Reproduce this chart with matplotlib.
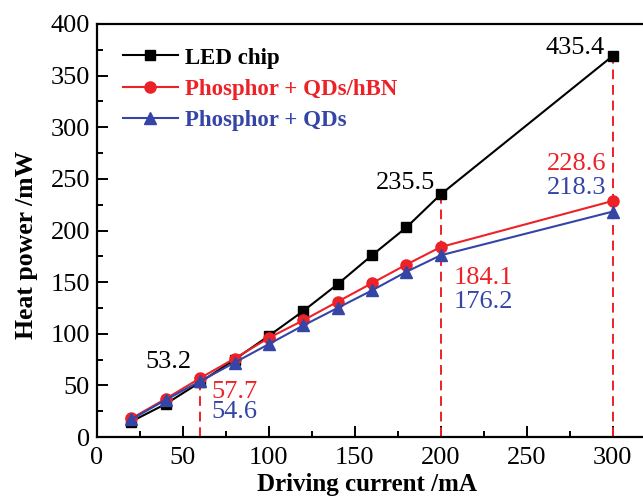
import numpy as np
import matplotlib
matplotlib.use("Agg")
import matplotlib.pyplot as plt
from matplotlib.ticker import MultipleLocator

plt.rcParams['font.family'] = ['Liberation Serif', 'DejaVu Serif']

# driving current (mA)
current = [20, 40, 60, 80, 100, 120, 140, 160, 180, 200, 300]
# heat power (mW)
led_chip = [15, 32, 53, 75, 98, 122, 148, 176, 203, 235, 369]
qds_hbn = [18, 37, 57, 76, 96, 113, 131, 149, 167, 184, 228.6]
qds = [17, 36, 54, 72, 90, 108, 125, 142, 160, 176, 218.3]

# dashed guide lines: (x, top)
guides_x = [60, 200, 300]
guides_top = [53, 235, 369]

# value labels
labels = ["53.2", "57.7", "54.6", "235.5", "184.1", "176.2", "435.4", "228.6", "218.3"]
label_x = [41.3, 66.3, 66.5, 197, 207.3, 207.3, 295.5, 296.3, 296.3]
label_y = [73, 44, 24.5, 246, 154, 131, 377, 264, 241]
label_ha = ["center", "left", "left", "right", "left", "left", "right", "right", "right"]

black = "black"
red = "#ec2227"
blue = "#3445a6"
label_colors = [black, red, blue, black, red, blue, black, red, blue]

fig = plt.figure(figsize=(6.43, 5), dpi=100)
ax = fig.add_axes([97 / 643, 63 / 500, 550 / 643, 413 / 500])

ax.plot(current, led_chip, color=black, marker="s", ms=6.5, lw=1.5, label="LED chip", zorder=3)
ax.plot(current, qds_hbn, color=red, marker="o", ms=8, lw=1.5, label="Phosphor + QDs/hBN", zorder=4)
ax.plot(current, qds, color=blue, marker="^", ms=8, lw=1.5, label="Phosphor + QDs", zorder=5)

for gx, gt in zip(guides_x, guides_top):
    ax.plot([gx, gx], [0, gt], color=red, ls=(0, (5, 3)), lw=1.4, zorder=2)

for t, x, y, ha, c in zip(labels, label_x, label_y, label_ha, label_colors):
    ax.text(x, y, t, color=c, fontsize=19, ha=ha, va="center")

ax.set_xlim(0, 320)
ax.set_ylim(0, 400)
ax.xaxis.set_major_locator(MultipleLocator(50))
ax.xaxis.set_minor_locator(MultipleLocator(25))
ax.yaxis.set_major_locator(MultipleLocator(50))
ax.yaxis.set_minor_locator(MultipleLocator(25))
ax.tick_params(which="both", direction="in", labelsize=19, width=1.4)
ax.tick_params(which="major", length=8)
ax.tick_params(which="minor", length=4.5)
ax.tick_params(axis="x", which="major", pad=7)
ax.tick_params(axis="y", which="major", pad=5)
for s in ax.spines.values():
    s.set_linewidth(1.6)

ax.set_xlabel("Driving current /mA", fontsize=18, fontweight="bold")
ax.xaxis.set_label_coords(0.49, -0.086, transform=ax.transAxes)
ax.set_ylabel("Heat power /mW", fontsize=18.5, fontweight="bold")
ax.yaxis.set_label_coords(-0.107, 0.465, transform=ax.transAxes)

leg = ax.legend(loc="upper left", frameon=False, fontsize=16.5, handlelength=2.4,
                handletextpad=0.3, labelspacing=0.45, borderaxespad=0.3,
                bbox_to_anchor=(0.018, 0.982))
for txt, c in zip(leg.get_texts(), [black, red, blue]):
    txt.set_color(c)
    txt.set_fontweight("bold")

fig.savefig("out.png", dpi=100)
